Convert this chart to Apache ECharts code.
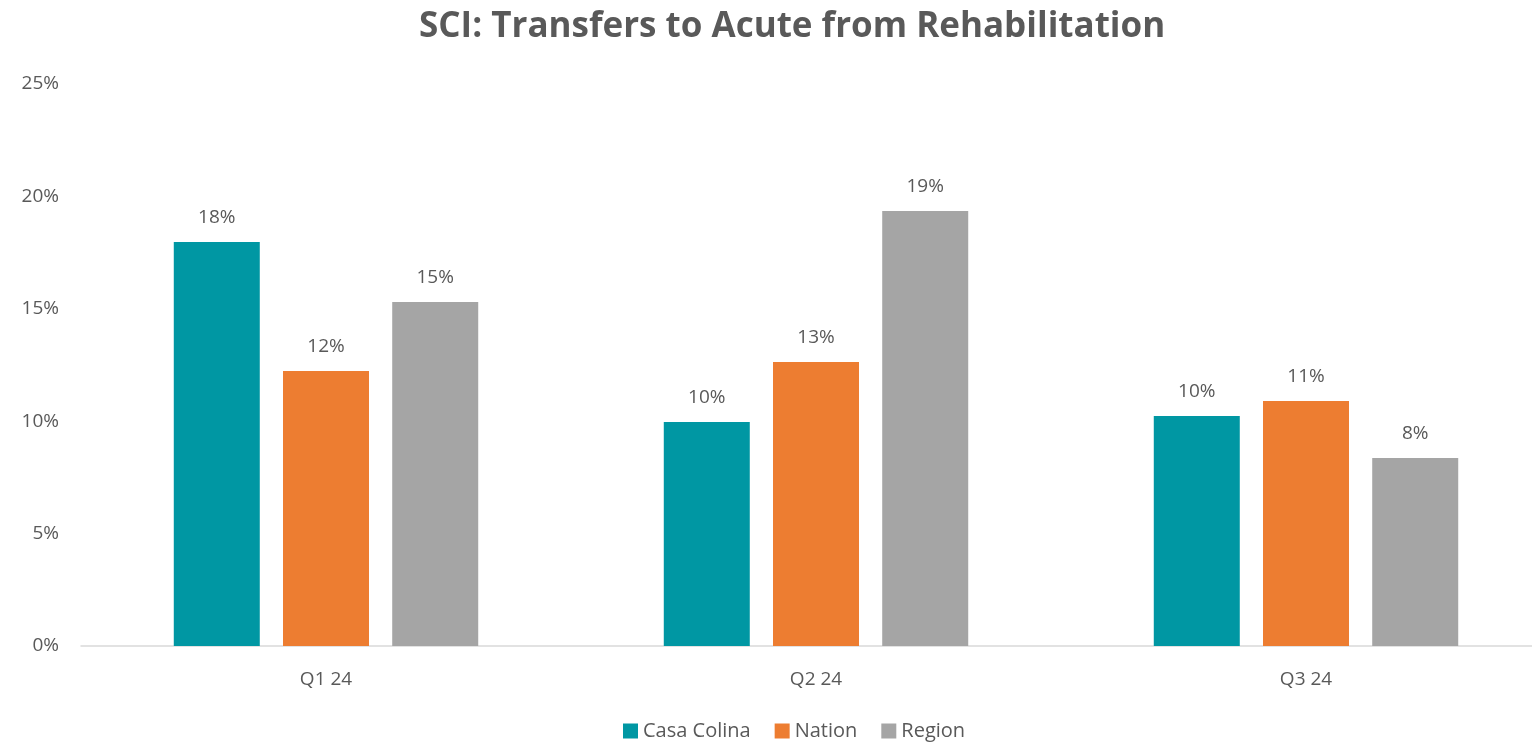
<!DOCTYPE html>
<html>
<head>
<meta charset="utf-8">
<script src="https://cdn.jsdelivr.net/npm/echarts@6/dist/echarts.min.js"></script>
</head>
<body style="margin:0">
<div id="container" style="width:1532px;height:744px"></div>
<script>
var categories = ['Q1 24', 'Q2 24', 'Q3 24'];
var casaColina = [17.97, 9.96, 10.23];
var nation = [12.23, 12.63, 10.9];
var region = [15.3, 19.35, 8.36];
var yTicks = [0, 5, 10, 15, 20, 25];

var font = '"Open Sans", "Noto Sans", sans-serif';
var textColor = '#595959';

function mkSeries(name, data, color) {
    return {
        name: name,
        type: 'bar',
        data: data,
        barWidth: 86,
        barGap: '27%',
        itemStyle: { color: color },
        label: {
            show: true,
            position: 'top',
            distance: 15,
            color: textColor,
            fontFamily: font,
            fontSize: 19,
            formatter: function (p) { return Math.round(p.value) + '%'; }
        }
    };
}

var chart = echarts.init(document.getElementById('container'));
chart.setOption({
    animation: false,
    title: {
        text: 'SCI: Transfers to Acute from Rehabilitation',
        left: 414,
        top: 5,
        textStyle: { fontFamily: font, fontSize: 35, fontWeight: 'bold', color: textColor }
    },
    legend: {
        bottom: -2,
        left: 618,
        itemWidth: 15,
        itemHeight: 15,
        itemGap: 24,
        icon: 'rect',
        textStyle: { fontFamily: font, fontSize: 20, color: textColor }
    },
    // the original plot runs past the right edge of the picture
    grid: { left: 81, width: 1470, top: 84, bottom: 98, outerBoundsMode: 'none' },
    xAxis: {
        type: 'category',
        data: categories,
        axisTick: { show: false },
        axisLine: { lineStyle: { color: '#d9d9d9', width: 1.5 } },
        axisLabel: { fontFamily: font, fontSize: 19, color: textColor, margin: 24 }
    },
    yAxis: {
        type: 'value',
        min: yTicks[0],
        max: yTicks[yTicks.length - 1],
        interval: 5,
        splitLine: { show: false },
        axisLabel: {
            fontFamily: font, fontSize: 19, color: textColor, margin: 22,
            formatter: '{value}%'
        }
    },
    series: [
        mkSeries('Casa Colina', casaColina, '#0097a3'),
        mkSeries('Nation', nation, '#ed7d31'),
        mkSeries('Region', region, '#a5a5a5')
    ]
});
</script>
</body>
</html>
